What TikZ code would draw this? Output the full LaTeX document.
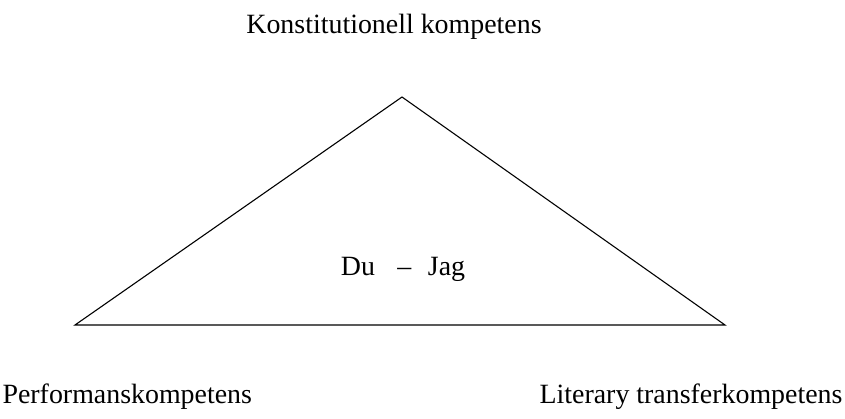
\documentclass[tikz,border=0pt]{standalone}
\usepackage{fontspec}
\setmainfont{Liberation Serif}
\usepackage{tikz}

\tikzset{kompetens/.style={font=\fontsize{28}{33}\selectfont,inner sep=0pt}}

\begin{document}
\begin{tikzpicture}[x=1bp,y=1bp,line width=1.1bp]
\useasboundingbox (0,0) rectangle (845,418);
\coordinate (top) at (402,321);
\coordinate (left) at (75,93);
\coordinate (right) at (725,93);
\draw (top) -- (right) -- (left) -- cycle;
\node[kompetens,anchor=base] (konst) at (394,385) {Konstitutionell kompetens};
\node[kompetens,anchor=base] (dujag) at (403,143) {Du\hspace{0.8em}--\hspace{0.6em}Jag};
\node[kompetens,anchor=base west] (perf) at (2,15) {Performanskompetens};
\node[kompetens,anchor=base east] (lit) at (843,15) {Literary transferkompetens};
\end{tikzpicture}
\end{document}
